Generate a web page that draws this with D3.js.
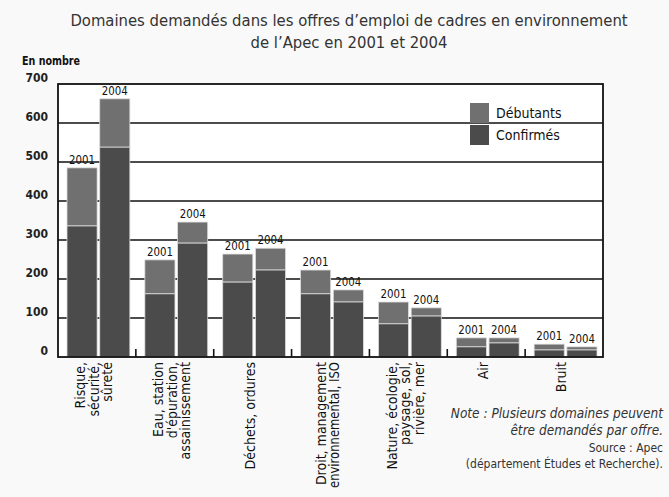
<!DOCTYPE html>
<html>
<head>
<meta charset="utf-8">
<script src="https://cdn.jsdelivr.net/npm/d3@7"></script>
<style>
  body { margin: 0; background: #f9f9f9; }
  text { font-family: "DejaVu Sans Condensed", "DejaVu Sans", sans-serif; }
</style>
</head>
<body>
<script>
// data (en nombre)
const categories = [
  ["Risque,", "sécurité,", "sûreté"],
  ["Eau, station", "d'épuration,", "assainissement"],
  ["Déchets, ordures"],
  ["Droit, management", "environnemental, ISO"],
  ["Nature, écologie,", "paysage, sol,", "rivière, mer"],
  ["Air"],
  ["Bruit"]
];
const years = ["2001", "2004"];
const confirmes2001 = [336, 162, 192, 162, 85, 26, 18];
const debutants2001 = [149, 87, 72, 61, 56, 23, 15];
const confirmes2004 = [538, 292, 223, 141, 105, 36, 18];
const debutants2004 = [124, 54, 56, 31, 21, 13, 8];
const yTicks = [0, 100, 200, 300, 400, 500, 600, 700];
const seriesNames = ["Débutants", "Confirmés"];
const colors = {"Débutants": "#707070", "Confirmés": "#4b4b4b"};

const W = 669, H = 497;
const m = {left: 58, right: 66, top: 84, bottom: 140};

const svg = d3.select("body").append("svg")
  .attr("width", W).attr("height", H);

const y = d3.scaleLinear().domain([0, 700]).range([H - m.bottom, m.top]);
const x = d3.scaleBand().domain(d3.range(categories.length))
  .range([m.left, W - m.right]).padding(0);
const xs = d3.scaleBand().domain(years)
  .range([9, x.bandwidth() - 6]).paddingInner(0.08);

// title
svg.append("text").attr("x", 349).attr("y", 26)
  .attr("text-anchor", "middle").attr("font-size", 16.5).attr("fill", "#333")
  .text("Domaines demandés dans les offres d’emploi de cadres en environnement");
svg.append("text").attr("x", 349).attr("y", 48)
  .attr("text-anchor", "middle").attr("font-size", 16.5).attr("fill", "#333")
  .text("de l’Apec en 2001 et 2004");
svg.append("text").attr("x", 22).attr("y", 65)
  .attr("font-size", 12).attr("font-weight", "bold").attr("fill", "#111")
  .attr("textLength", 58).attr("lengthAdjust", "spacingAndGlyphs")
  .text("En nombre");

// plot area
svg.append("rect").attr("x", m.left).attr("y", m.top)
  .attr("width", W - m.right - m.left).attr("height", H - m.bottom - m.top)
  .attr("fill", "#fff");

// gridlines
svg.append("g").selectAll("line").data(yTicks.slice(1, -1)).join("line")
  .attr("x1", m.left).attr("x2", W - m.right)
  .attr("y1", d => y(d)).attr("y2", d => y(d))
  .attr("stroke", "#111").attr("stroke-width", 1.6);

// y labels
svg.append("g").selectAll("text").data(yTicks).join("text")
  .attr("x", 48).attr("y", d => y(d) - 2)
  .attr("text-anchor", "end").attr("font-size", 12).attr("font-weight", "bold")
  .attr("fill", "#222").text(d => d);

// bars
const rows = [];
categories.forEach((c, i) => {
  rows.push({i, year: "2001", conf: confirmes2001[i], deb: debutants2001[i]});
  rows.push({i, year: "2004", conf: confirmes2004[i], deb: debutants2004[i]});
});

const bars = svg.append("g").selectAll("g").data(rows).join("g")
  .attr("transform", d => `translate(${x(d.i) + xs(d.year)},0)`);
bars.append("rect")
  .attr("y", d => y(d.conf + d.deb))
  .attr("width", xs.bandwidth())
  .attr("height", d => y(d.conf) - y(d.conf + d.deb))
  .attr("fill", colors["Débutants"]).attr("stroke", "#ddd").attr("stroke-width", 0.8);
bars.append("rect")
  .attr("y", d => y(d.conf))
  .attr("width", xs.bandwidth())
  .attr("height", d => y(0) - y(d.conf))
  .attr("fill", colors["Confirmés"]).attr("stroke", "#ddd").attr("stroke-width", 0.8);
bars.append("text")
  .attr("x", xs.bandwidth() / 2).attr("y", d => y(d.conf + d.deb) - 4)
  .attr("text-anchor", "middle").attr("font-size", 12).attr("fill", "#111")
  .attr("textLength", 26).attr("lengthAdjust", "spacingAndGlyphs")
  .text(d => d.year);

// frame
svg.append("rect").attr("x", m.left).attr("y", m.top)
  .attr("width", W - m.right - m.left).attr("height", H - m.bottom - m.top)
  .attr("fill", "none").attr("stroke", "#111").attr("stroke-width", 1.8);

// small ticks at group boundaries
svg.append("g").selectAll("line").data(d3.range(1, categories.length)).join("line")
  .attr("x1", d => x(d)).attr("x2", d => x(d))
  .attr("y1", y(0)).attr("y2", y(0) - 8)
  .attr("stroke", "#111").attr("stroke-width", 1.6);

// category labels, rotated
const lab = svg.append("g").selectAll("g").data(categories).join("g")
  .attr("transform", (d, i) => `translate(${x(i) + x.bandwidth() / 2 - 3},${y(0) + 5})`);
lab.each(function(lines) {
  const g = d3.select(this);
  const n = lines.length;
  lines.forEach((t, k) => {
    const tx = g.append("text")
      .attr("transform", `translate(${(k - (n - 1) / 2) * 13.5 + 5},0) rotate(-90)`)
      .attr("text-anchor", "end").attr("font-size", 14).attr("fill", "#111")
      .text(t);
    if (tx.node().getComputedTextLength() > 126) {
      tx.attr("textLength", 126).attr("lengthAdjust", "spacingAndGlyphs");
    }
  });
});

// legend
const leg = svg.append("g").attr("transform", "translate(470,103)");
seriesNames.forEach((s, k) => {
  leg.append("rect").attr("x", 0).attr("y", k * 22)
    .attr("width", 19).attr("height", 20).attr("fill", colors[s]);
  leg.append("text").attr("x", 26).attr("y", k * 22 + 15)
    .attr("font-size", 14).attr("fill", "#111").text(s);
});

// note & source
const notes = [
  ["Note : Plusieurs domaines peuvent", 418, "italic", 13.5],
  ["être demandés par offre.", 435, "italic", 13.5],
  ["Source : Apec", 452, "normal", 12],
  ["(département Études et Recherche).", 468, "normal", 12]
];
svg.append("g").selectAll("text").data(notes).join("text")
  .attr("x", 663).attr("y", d => d[1])
  .attr("text-anchor", "end").attr("font-size", d => d[3])
  .attr("font-style", d => d[2]).attr("fill", "#333")
  .text(d => d[0]);
</script>
</body>
</html>
